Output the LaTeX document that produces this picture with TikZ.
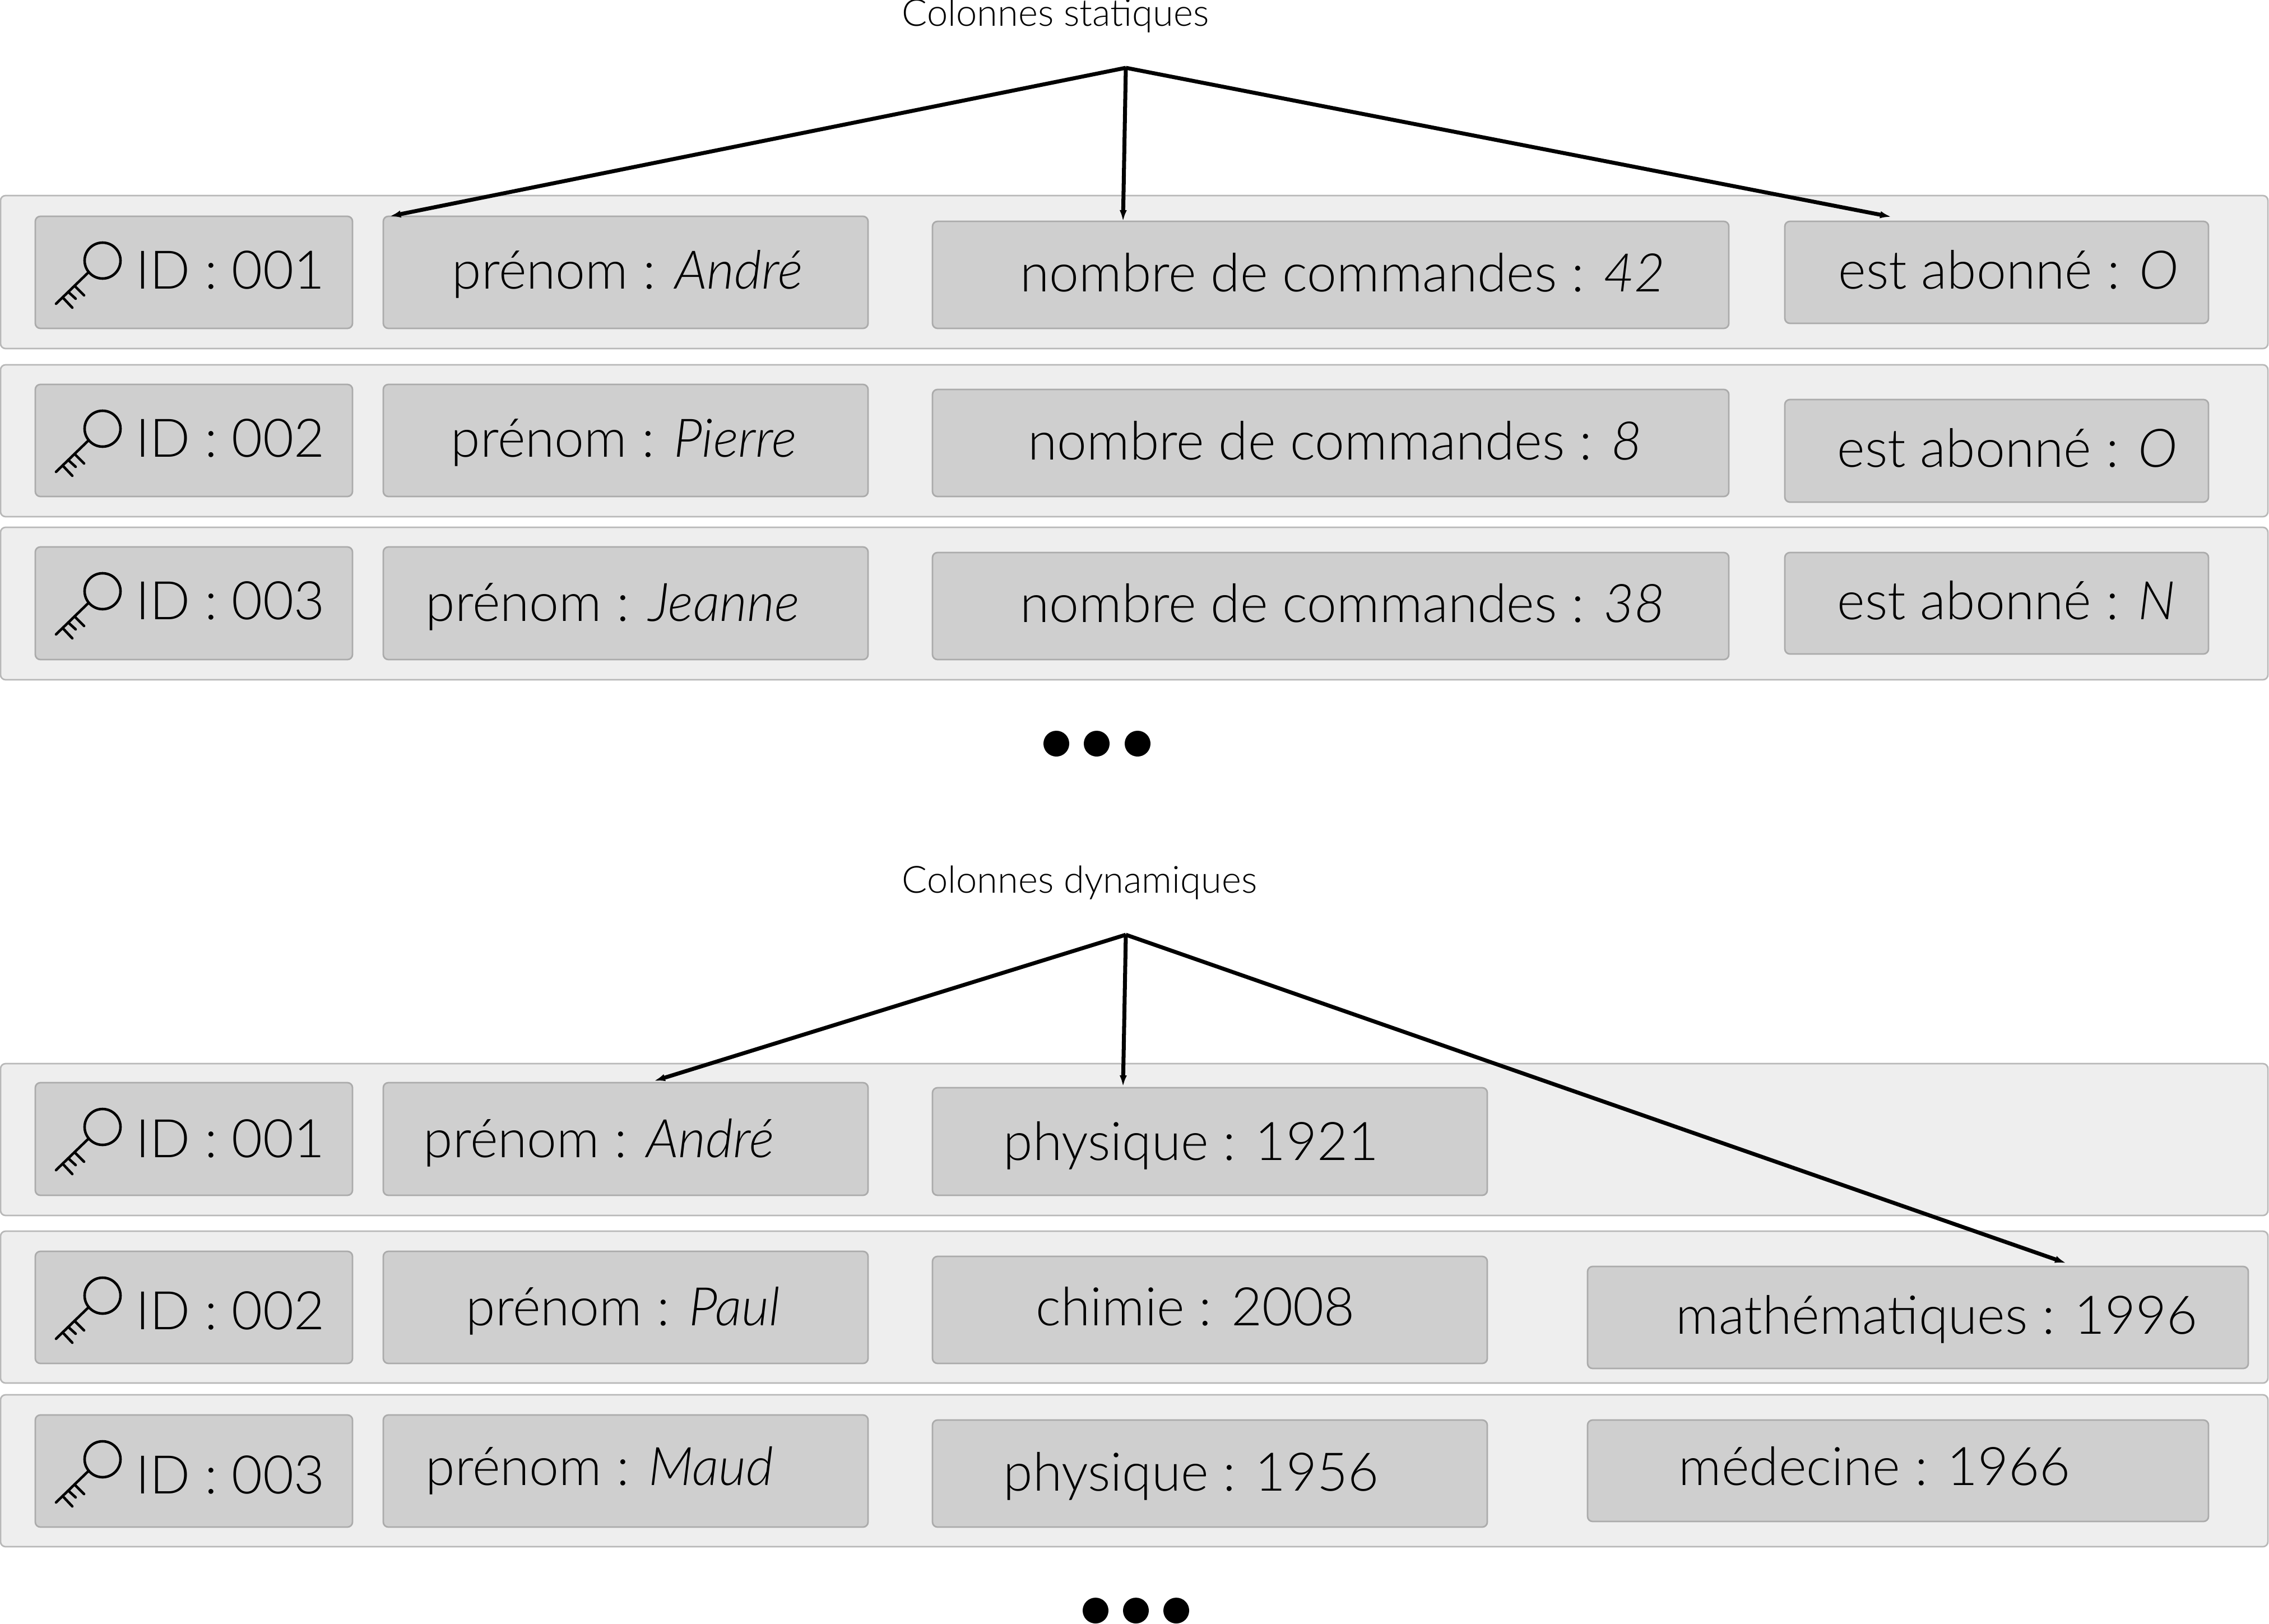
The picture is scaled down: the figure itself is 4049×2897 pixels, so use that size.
\documentclass[tikz,border=0pt]{standalone}
\usepackage{fontspec}
\setmainfont{Lato Light}
\usetikzlibrary{calc}
\definecolor{rowfill}{HTML}{EEEEEE}
\definecolor{boxfill}{HTML}{CFCFCF}
\definecolor{rowline}{HTML}{B8B8B8}
\definecolor{boxline}{HTML}{ABABAB}
\tikzset{
  rowbox/.style={draw=rowline,fill=rowfill,line width=1.3pt*0.6,rounded corners=0.09cm,inner sep=0pt,outer sep=0pt},
  cellbox/.style={draw=boxline,fill=boxfill,line width=1.3pt*0.6,rounded corners=0.09cm,inner sep=0pt,outer sep=0pt},
  celltext/.style={anchor=base west,inner sep=0pt,font=\fontsize{27}{30}\selectfont},
  captext/.style={anchor=base west,inner sep=0pt,font=\fontsize{19}{22}\selectfont},
  link/.style={line width=2pt,-{Latex[length=0.2cm,width=0.13cm]}},
  keyline/.style={line width=1.3pt,line cap=round},
  dotmark/.style={circle,fill=black,minimum size=0.46cm,inner sep=0pt}
}
\usetikzlibrary{arrows.meta}
\newcommand{\rect}[6]{% style,name,x1,y1,x2,y2
  \pgfmathsetmacro{\rw}{(#5-#3)*0.01}\pgfmathsetmacro{\rh}{(#6-#4)*0.01}
  \node[#1,minimum width=\rw cm,minimum height=\rh cm] (#2) at ({(#3+#5)/2},{(#4+#6)/2}) {};}
\newcommand{\keyicon}[3]{% name, box left, box top
  \begin{scope}[shift={(#2-63,#3-386)}]
    \node[draw=black,line width=1.3pt,circle,minimum size=0.64cm,inner sep=0pt] (#1) at (183,465) {};
    \draw[keyline] (#1.220) -- (100,542);
    \draw[keyline] (133,510) -- (150,527);
    \draw[keyline] (123,522) -- (135,533);
    \draw[keyline] (113,532) -- (129,549);
  \end{scope}}
\begin{document}
\begin{tikzpicture}[x=0.01cm,y=-0.01cm]
\useasboundingbox (0,0) rectangle (4049,2897);
% rows
\rect{rowbox}{sr1}{1}{349}{4047}{622}
\rect{rowbox}{sr2}{1}{651}{4047}{922}
\rect{rowbox}{sr3}{1}{941}{4047}{1213}
\rect{rowbox}{dr1}{1}{1898}{4047}{2169}
\rect{rowbox}{dr2}{1}{2197}{4047}{2468}
\rect{rowbox}{dr3}{1}{2489}{4047}{2760}
% static cells
\rect{cellbox}{sa1}{63}{386}{629}{586}
\rect{cellbox}{sa2}{684}{386}{1549}{586}
\rect{cellbox}{sa3}{1664}{395}{3085}{586}
\rect{cellbox}{sa4}{3185}{395}{3941}{577}
\rect{cellbox}{sb1}{63}{686}{629}{886}
\rect{cellbox}{sb2}{684}{686}{1549}{886}
\rect{cellbox}{sb3}{1664}{695}{3085}{886}
\rect{cellbox}{sb4}{3185}{713}{3941}{896}
\rect{cellbox}{sc1}{63}{976}{629}{1177}
\rect{cellbox}{sc2}{684}{976}{1549}{1177}
\rect{cellbox}{sc3}{1664}{986}{3085}{1177}
\rect{cellbox}{sc4}{3185}{986}{3941}{1167}
% dynamic cells
\rect{cellbox}{da1}{63}{1932}{629}{2133}
\rect{cellbox}{da2}{684}{1932}{1549}{2133}
\rect{cellbox}{da3}{1664}{1941}{2654}{2133}
\rect{cellbox}{db1}{63}{2233}{629}{2433}
\rect{cellbox}{db2}{684}{2233}{1549}{2433}
\rect{cellbox}{db3}{1664}{2242}{2654}{2433}
\rect{cellbox}{db4}{2833}{2260}{4012}{2442}
\rect{cellbox}{dc1}{63}{2525}{629}{2725}
\rect{cellbox}{dc2}{684}{2525}{1549}{2725}
\rect{cellbox}{dc3}{1664}{2534}{2654}{2725}
\rect{cellbox}{dc4}{2833}{2534}{3941}{2715}
% keys
\keyicon{ksa}{63}{386}
\keyicon{ksb}{63}{686}
\keyicon{ksc}{63}{976}
\keyicon{kda}{63}{1932}
\keyicon{kdb}{63}{2233}
\keyicon{kdc}{63}{2525}
% texts
\node[celltext] (tsa1) at (242,515) {ID : 001};
\node[celltext] (tsa2) at (806,515) {prénom : \textit{André}};
\node[celltext] (tsa3) at (1820,520) {nombre de commandes : \textit{42}};
\node[celltext] (tsa4) at (3280,515) {est abonné : \textit{O}};
\node[celltext] (tsb1) at (242,815) {ID : 002};
\node[celltext] (tsb2) at (804,815) {prénom : \textit{Pierre}};
\node[celltext] (tsb3) at (1834,820) {nombre de commandes : \textit{8}};
\node[celltext] (tsb4) at (3278,833) {est abonné : \textit{O}};
\node[celltext] (tsc1) at (242,1105) {ID : 003};
\node[celltext] (tsc2) at (759,1108) {prénom : \textit{Jeanne}};
\node[celltext] (tsc3) at (1820,1110) {nombre de commandes : \textit{38}};
\node[celltext] (tsc4) at (3278,1105) {est abonné : \textit{N}};
\node[celltext] (tda1) at (242,2065) {ID : 001};
\node[celltext] (tda2) at (755,2065) {prénom : \textit{André}};
\node[celltext] (tda3) at (1790,2070) {physique : 1921};
\node[celltext] (tdb1) at (242,2372) {ID : 002};
\node[celltext] (tdb2) at (831,2365) {prénom : \textit{Paul}};
\node[celltext] (tdb3) at (1848,2365) {chimie : 2008};
\node[celltext] (tdb4) at (2990,2380) {mathématiques : 1996};
\node[celltext] (tdc1) at (242,2665) {ID : 003};
\node[celltext] (tdc2) at (759,2650) {prénom : \textit{Maud}};
\node[celltext] (tdc3) at (1790,2660) {physique : 1956};
\node[celltext] (tdc4) at (2995,2650) {médecine : 1966};
% captions
\node[captext] (caps) at (1609,47) {Colonnes statiques};
\node[captext] (capd) at (1609,1593) {Colonnes dynamiques};
% arrows
\coordinate (apexs) at (2009,121);
\coordinate (apexd) at (2009,1668);
\draw[link] (apexs) -- ([xshift=6.32cm]sa1.north west |- sa2.north);
\draw[link] (apexs) -- (sa3.north west -| 2004,0);
\draw[link] (apexs) -- (3375,387);
\draw[link] (apexd) -- (1167,1929);
\draw[link] (apexd) -- (2004,1939);
\draw[link] (apexd) -- (3687,2254);
% dots
\foreach \n/\x in {1/1885,2/1957,3/2030}{\node[dotmark] (sd\n) at (\x,1327) {};}
\foreach \n/\x in {1/1955,2/2027,3/2099}{\node[dotmark] (dd\n) at (\x,2874) {};}
\end{tikzpicture}
\end{document}
